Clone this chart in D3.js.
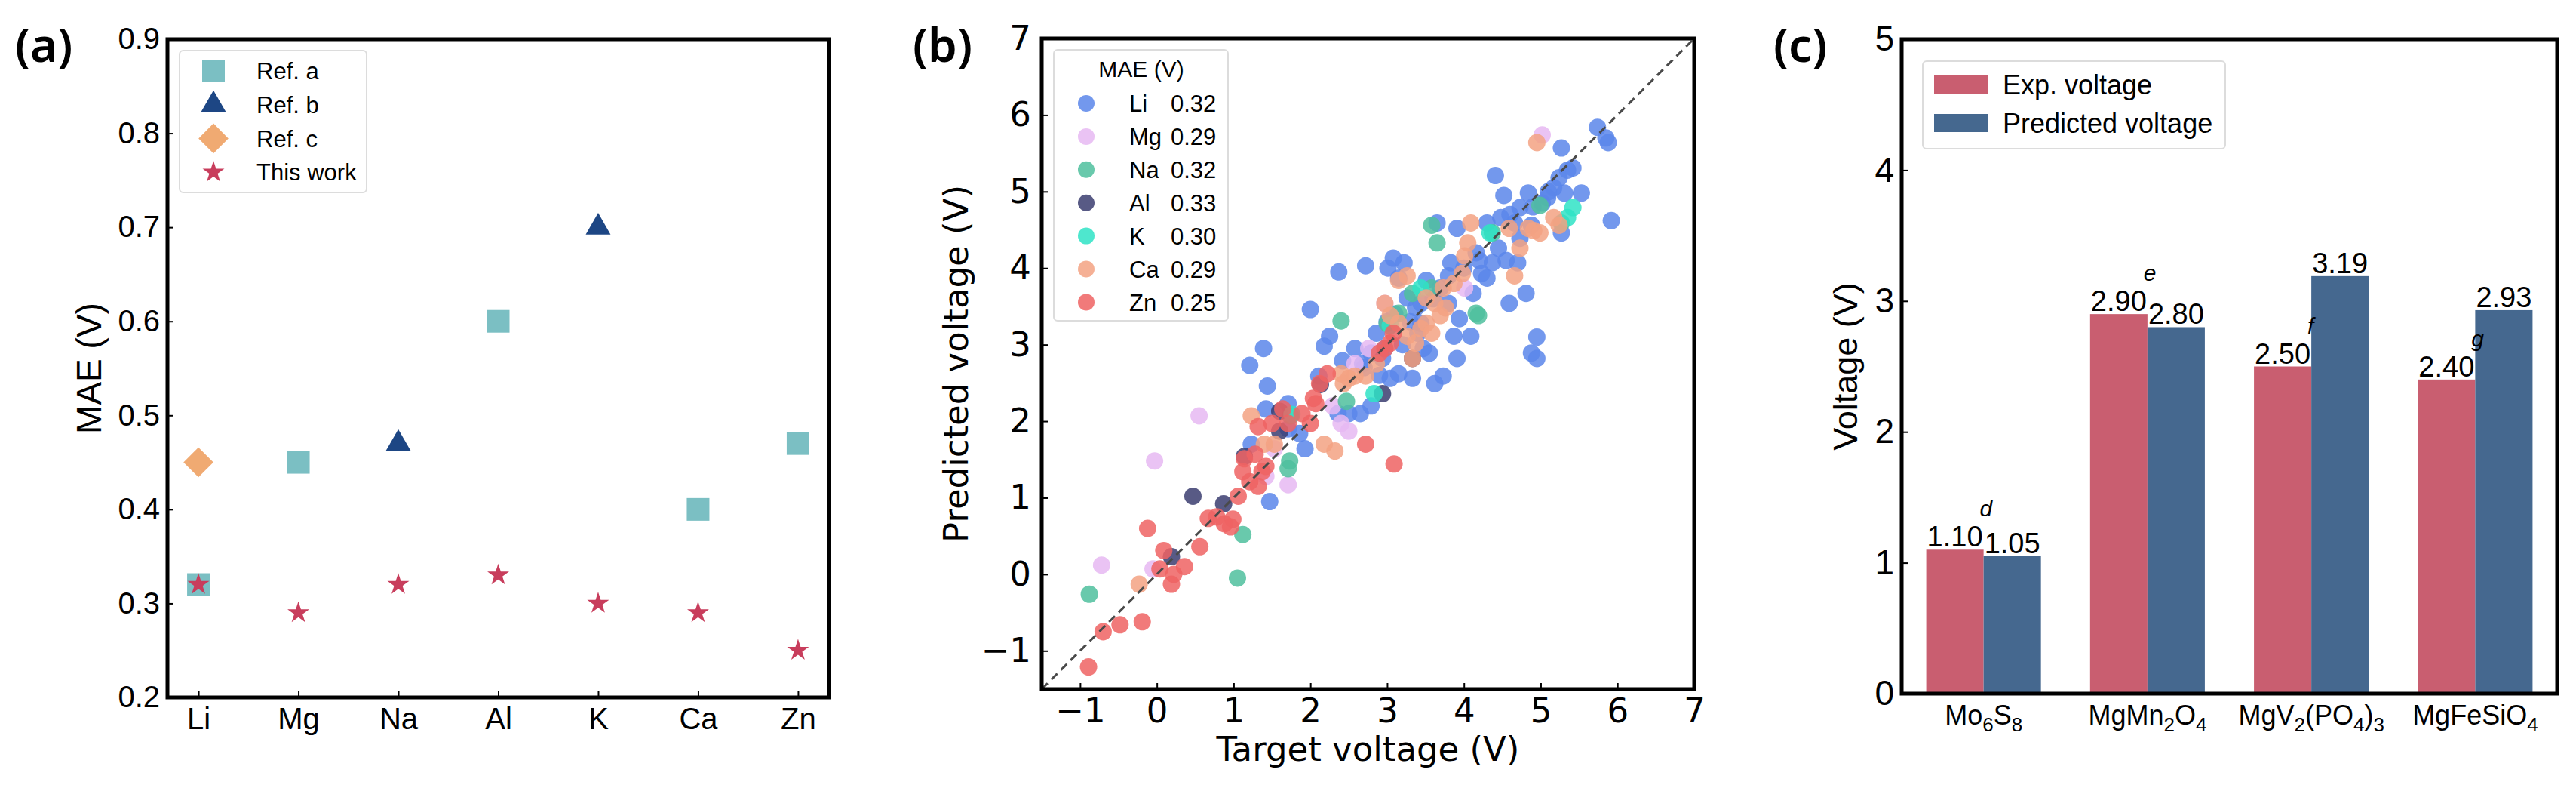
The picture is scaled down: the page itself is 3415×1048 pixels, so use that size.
<!DOCTYPE html>
<html>
<head>
<meta charset="utf-8">
<script src="https://cdn.jsdelivr.net/npm/d3@7"></script>
<style>
  body { margin: 0; background: #fff; }
  svg { display: block; }
</style>
</head>
<body>
<svg id="fig" width="3415" height="1048"></svg>
<script>
// ---------- panel (a) data
const ions = ["Li", "Mg", "Na", "Al", "K", "Ca", "Zn"];
const refAIons = ["Li", "Mg", "Al", "Ca", "Zn"];
const refAVals = [0.32, 0.45, 0.60, 0.40, 0.47];
const refBIons = ["Na", "K"];
const refBVals = [0.47, 0.70];
const refCIons = ["Li"];
const refCVals = [0.45];
const thisWorkVals = [0.32, 0.29, 0.32, 0.33, 0.30, 0.29, 0.25];
const maeTicks = [0.2, 0.3, 0.4, 0.5, 0.6, 0.7, 0.8, 0.9];

// ---------- panel (b) data: [target, predicted]
const liPts = [[1.21,2.73],[1.39,2.95],[1.44,2.46],[1.42,2.16],[1.47,0.95],[1.23,1.70],[1.71,2.23],[2.0,3.46],[2.18,2.98],[2.25,3.11],[2.37,3.95],[2.11,2.59],[2.42,2.79],[2.58,2.95],[2.72,4.03],[2.65,2.10],[2.79,2.20],[2.50,2.10],[2.68,2.75],[2.79,2.89],[2.94,2.82],[3.01,4.0],[3.08,4.13],[3.15,3.87],[3.22,4.07],[3.04,2.56],[3.15,2.62],[3.33,2.56],[3.40,3.15],[3.44,3.54],[3.51,3.84],[3.65,4.59],[3.62,2.49],[3.73,2.59],[3.80,3.54],[3.87,3.11],[3.91,4.52],[3.83,4.07],[3.94,3.34],[4.09,3.11],[4.16,4.20],[4.23,3.93],[4.30,3.87],[4.37,4.07],[4.45,4.26],[4.41,5.21],[4.52,4.95],[4.55,4.10],[4.59,3.54],[4.70,4.07],[4.73,4.79],[4.81,3.67],[4.84,4.98],[4.88,2.89],[4.95,2.82],[4.95,3.10],[5.02,4.85],[5.09,4.92],[5.17,5.05],[5.24,5.18],[5.27,5.57],[5.31,4.98],[5.35,5.28],[5.42,5.31],[5.53,4.98],[5.74,5.84],[5.85,5.70],[5.88,5.64],[5.92,4.62],[5.27,4.46],[4.66,4.59],[4.48,4.66],[3.37,3.48],[3.44,3.28],[3.55,2.89],[2.86,3.15],[2.97,2.95],[3.26,3.61],[4.12,3.67],[3.69,3.74],[3.47,2.95],[1.71,1.90],[1.93,1.64],[1.86,1.84],[2.36,2.10],[3.91,2.82],[4.73,4.39],[4.30,4.59],[4.88,4.56],[3.0,3.3],[3.1,3.4],[3.3,3.3],[3.6,3.6],[3.8,3.9],[4.0,4.0],[4.2,4.1],[4.6,4.7],[4.9,4.8],[5.1,5.0],[2.7,2.7],[2.9,2.6],[3.2,3.0]];
const mgPts = [[-0.72,0.12],[-0.03,1.48],[0.55,2.07],[1.71,1.17],[1.42,1.28],[1.53,1.64],[2.40,1.97],[2.50,1.87],[2.29,2.20],[2.76,2.95],[2.97,3.54],[4.01,3.74],[5.02,5.74],[-0.05,0.07],[2.58,2.75]];
const naPts = [[-0.88,-0.26],[1.05,-0.05],[1.12,0.52],[1.71,1.38],[1.73,1.48],[1.74,2.07],[2.40,3.31],[2.47,2.26],[3.58,4.56],[3.65,4.33],[4.16,3.41],[4.19,3.38],[3.0,3.28],[3.15,3.41],[4.37,4.46],[4.99,4.82],[5.27,4.59],[3.58,3.74],[3.33,3.67]];
const alPts = [[0.47,1.02],[0.87,0.92],[0.19,0.23],[1.60,2.13],[1.60,1.87],[2.13,2.48],[2.94,2.36],[3.33,2.82],[1.14,1.54]];
const kPts = [[1.76,2.09],[2.83,2.36],[3.04,3.25],[4.34,4.46],[5.42,4.79],[5.35,4.66],[3.44,3.74]];
const caPts = [[-0.23,-0.13],[1.23,2.07],[1.40,1.70],[1.53,1.70],[2.18,1.70],[2.32,1.61],[2.40,2.62],[2.50,2.56],[2.43,2.49],[2.58,2.59],[2.72,2.59],[2.86,2.75],[2.97,3.54],[3.04,3.38],[3.15,3.28],[3.26,3.11],[3.33,2.82],[3.37,3.02],[3.44,3.21],[3.51,3.28],[3.58,3.15],[3.69,3.38],[3.76,3.48],[3.87,3.80],[3.98,3.93],[4.05,4.33],[4.01,4.16],[3.73,3.74],[4.73,4.26],[4.84,4.52],[4.91,4.49],[4.99,4.46],[5.17,4.66],[5.24,4.56],[4.95,5.64],[4.66,3.90],[3.15,3.84],[3.26,3.90],[3.51,3.61],[3.62,3.54],[4.09,4.59],[4.59,4.52]];
const znPts = [[-0.89,-1.21],[-0.70,-0.75],[-0.48,-0.66],[-0.19,-0.62],[-0.12,0.60],[0.09,0.31],[0.04,0.07],[0.19,-0.13],[0.36,0.10],[0.56,0.36],[0.22,0.0],[0.67,0.73],[0.78,0.75],[0.88,0.66],[0.99,0.72],[0.96,0.62],[1.06,1.02],[1.14,1.51],[1.12,1.34],[1.21,1.21],[1.32,1.15],[1.37,1.34],[1.42,1.41],[1.28,1.57],[1.32,1.93],[1.50,1.97],[1.64,2.16],[1.71,1.97],[1.89,2.10],[2.0,1.97],[2.07,2.23],[2.04,2.30],[2.12,2.49],[2.22,2.62],[2.72,1.70],[3.09,1.44],[2.97,2.95],[3.04,3.02],[2.90,2.89],[3.08,3.15]];
const seriesNames = ["Li", "Mg", "Na", "Al", "K", "Ca", "Zn"];
const seriesMae = ["0.32", "0.29", "0.32", "0.33", "0.30", "0.29", "0.25"];
const seriesPts = [liPts, mgPts, naPts, alPts, kPts, caPts, znPts];
const seriesColors = ["#5a86ea", "#e6b9f2", "#4fbf9e", "#3b3d70", "#2fe3c6", "#f3a283", "#ef6363"];
const voltTicks = [-1, 0, 1, 2, 3, 4, 5, 6, 7];

// ---------- panel (c) data
const cathodes = ["Mo6S8", "MgMn2O4", "MgV2(PO4)3", "MgFeSiO4"];
const expVolt = [1.10, 2.90, 2.50, 2.40];
const predVolt = [1.05, 2.80, 3.19, 2.93];
const expRefs = ["d", "e", "f", "g"];
const cTicks = [0, 1, 2, 3, 4, 5];

const svg = d3.select("#fig");
const arial = "'Liberation Sans', Arial, sans-serif";
const dejavu = "'DejaVu Sans', sans-serif";

function styleAxis(g, size, family) {
  g.select(".domain").remove();
  g.selectAll(".tick line").attr("stroke", "#000").attr("stroke-width", 2);
  g.selectAll(".tick text").attr("fill", "#000").style("font-size", size + "px").style("font-family", family);
}

function frame(box) {
  svg.append("rect")
    .attr("x", box.l).attr("y", box.t)
    .attr("width", box.r - box.l).attr("height", box.b - box.t)
    .attr("fill", "none").attr("stroke", "#000").attr("stroke-width", 5);
}

function panelLabel(txt, x) {
  svg.append("text").attr("x", x).attr("y", 82).text(txt)
    .style("font-family", "'Noto Sans', 'Open Sans', sans-serif")
    .style("font-weight", 600).style("font-size", "62px");
}

// ================= (a)
const A = { l: 222, r: 1099, t: 52, b: 924 };
const xa = d3.scalePoint().domain(ions).range([A.l, A.r]).padding(0.31);
const ya = d3.scaleLinear().domain([0.2, 0.9]).range([A.b, A.t]);

svg.append("g").attr("transform", `translate(0,${A.b})`)
  .call(d3.axisBottom(xa).tickSize(-8).tickPadding(14))
  .call(g => styleAxis(g, 40, arial));
svg.append("g").attr("transform", `translate(${A.l},0)`)
  .call(d3.axisLeft(ya).tickValues(maeTicks).tickFormat(d3.format(".1f")).tickSize(-8).tickPadding(10))
  .call(g => styleAxis(g, 40, arial));

const markA = [
  { name: "Ref. a", sym: d3.symbol(d3.symbolSquare, 900), rot: 0, color: "#7bbfc3" },
  { name: "Ref. b", sym: d3.symbol(d3.symbolTriangle, 470), rot: 0, color: "#1d4684" },
  { name: "Ref. c", sym: d3.symbol(d3.symbolSquare, 784), rot: 45, color: "#f0aa72" },
  { name: "This work", sym: d3.symbol(d3.symbolStar, 260), rot: 0, color: "#c83d5c" }
];
const aSets = [
  refAIons.map((k, i) => [k, refAVals[i]]),
  refBIons.map((k, i) => [k, refBVals[i]]),
  refCIons.map((k, i) => [k, refCVals[i]]),
  ions.map((k, i) => [k, thisWorkVals[i]])
];
aSets.forEach((set, si) => {
  svg.append("g").selectAll("path").data(set).join("path")
    .attr("d", markA[si].sym())
    .attr("transform", d => `translate(${xa(d[0])},${ya(d[1])}) rotate(${markA[si].rot})`)
    .attr("fill", markA[si].color);
});

// legend (a)
const la = svg.append("g");
la.append("rect").attr("x", 238).attr("y", 67).attr("width", 248).attr("height", 188).attr("rx", 5)
  .attr("fill", "#fff").attr("stroke", "#dcdcdc").attr("stroke-width", 2);
markA.forEach((m, i) => {
  const y = 94 + i * 44.7;
  la.append("path").attr("d", m.sym()).attr("fill", m.color)
    .attr("transform", `translate(283,${y}) rotate(${m.rot})`);
  la.append("text").attr("x", 340).attr("y", y).attr("dy", "0.36em").text(m.name)
    .style("font-family", arial).style("font-size", "31px");
});

svg.append("text").attr("transform", `translate(134,${(A.t + A.b) / 2}) rotate(-90)`)
  .attr("text-anchor", "middle").text("MAE (V)")
  .style("font-family", arial).style("font-size", "46px");
frame(A);
panelLabel("(a)", 20);

// ================= (b)
const B = { l: 1381, r: 2246, t: 51, b: 913 };
const xb = d3.scaleLinear().domain([-1.5, 7]).range([B.l, B.r]);
const yb = d3.scaleLinear().domain([-1.5, 7]).range([B.b, B.t]);
const minusFmt = d => (d < 0 ? "\u2212" + Math.abs(d) : String(d));

svg.append("g").attr("transform", `translate(0,${B.b})`)
  .call(d3.axisBottom(xb).tickValues(voltTicks).tickFormat(minusFmt).tickSize(-8).tickPadding(12))
  .call(g => styleAxis(g, 45, dejavu));
svg.append("g").attr("transform", `translate(${B.l},0)`)
  .call(d3.axisLeft(yb).tickValues(voltTicks).tickFormat(minusFmt).tickSize(-8).tickPadding(14))
  .call(g => styleAxis(g, 45, dejavu));

seriesPts.forEach((pts, si) => {
  svg.append("g").selectAll("circle").data(pts).join("circle")
    .attr("cx", d => xb(d[0])).attr("cy", d => yb(d[1])).attr("r", 11.5)
    .attr("fill", seriesColors[si]).attr("fill-opacity", 0.85);
});

svg.append("line")
  .attr("x1", xb(-1.5)).attr("y1", yb(-1.5)).attr("x2", xb(7)).attr("y2", yb(7))
  .attr("stroke", "#4a4a4a").attr("stroke-width", 3).attr("stroke-dasharray", "11,7");

// legend (b)
const lb = svg.append("g");
lb.append("rect").attr("x", 1397).attr("y", 66).attr("width", 231).attr("height", 359).attr("rx", 5)
  .attr("fill", "#fff").attr("fill-opacity", 0.85).attr("stroke", "#dcdcdc").attr("stroke-width", 2);
lb.append("text").attr("x", 1513).attr("y", 102).attr("text-anchor", "middle").text("MAE (V)")
  .style("font-family", arial).style("font-size", "30px");
seriesNames.forEach((n, i) => {
  const y = 137 + i * 43.9;
  lb.append("circle").attr("cx", 1440).attr("cy", y).attr("r", 11)
    .attr("fill", seriesColors[i]).attr("fill-opacity", 0.85);
  lb.append("text").attr("x", 1497).attr("y", y).attr("dy", "0.36em").text(n)
    .style("font-family", arial).style("font-size", "31px");
  lb.append("text").attr("x", 1552).attr("y", y).attr("dy", "0.36em").text(seriesMae[i])
    .style("font-family", arial).style("font-size", "31px");
});

svg.append("text").attr("x", (B.l + B.r) / 2).attr("y", 1008).attr("text-anchor", "middle")
  .text("Target voltage (V)").style("font-family", dejavu).style("font-size", "45px");
svg.append("text").attr("transform", `translate(1283,${(B.t + B.b) / 2}) rotate(-90)`)
  .attr("text-anchor", "middle").text("Predicted voltage (V)")
  .style("font-family", dejavu).style("font-size", "45px");
frame(B);
panelLabel("(b)", 1210);

// ================= (c)
const C = { l: 2521, r: 3390, t: 52, b: 919 };
const xc = d3.scaleBand().domain(cathodes).range([C.l, C.r]).padding(0);
const yc = d3.scaleLinear().domain([0, 5]).range([C.b, C.t]);
const barW = xc.bandwidth() * 0.35;
const barColors = ["#c95e70", "#45688f"];

const gcx = svg.append("g").attr("transform", `translate(0,${C.b})`)
  .call(d3.axisBottom(xc).tickSize(0).tickPadding(15))
  .call(g => styleAxis(g, 36, arial));
// chemical formula labels: digits drawn as subscripts
gcx.selectAll(".tick text").each(function (d) {
  const t = d3.select(this).attr("dy", null).attr("y", 41).text(null);
  let shift = 0;
  d.match(/\d+|[^\d]+/g).forEach(part => {
    const isSub = /\d/.test(part);
    const target = isSub ? 9 : 0;
    const ts = t.append("tspan").style("font-size", isSub ? "26px" : null).text(part);
    if (target !== shift) ts.attr("dy", target - shift);
    shift = target;
  });
});
svg.append("g").attr("transform", `translate(${C.l},0)`)
  .call(d3.axisLeft(yc).tickValues(cTicks).tickFormat(d3.format("d")).tickSize(-8).tickPadding(10))
  .call(g => styleAxis(g, 46, arial));

const barSets = [expVolt, predVolt];
barSets.forEach((vals, si) => {
  const gb = svg.append("g");
  gb.selectAll("rect").data(cathodes).join("rect")
    .attr("x", d => xc(d) + xc.bandwidth() / 2 - barW + si * barW)
    .attr("y", (d, i) => yc(vals[i]))
    .attr("width", barW).attr("height", (d, i) => yc(0) - yc(vals[i]))
    .attr("fill", barColors[si]);
  gb.selectAll("text").data(cathodes).join("text")
    .attr("x", d => xc(d) + xc.bandwidth() / 2 - barW / 2 + si * barW)
    .attr("y", (d, i) => yc(vals[i]) - 4)
    .attr("text-anchor", "middle").text((d, i) => vals[i].toFixed(2))
    .style("font-family", arial).style("font-size", "38px");
});
svg.append("g").selectAll("text").data(cathodes).join("text")
  .attr("x", d => xc(d) + xc.bandwidth() / 2 - barW / 2 + 33)
  .attr("y", (d, i) => yc(expVolt[i]) - 44)
  .text((d, i) => expRefs[i])
  .style("font-family", arial).style("font-style", "italic").style("font-size", "30px");

// legend (c)
const lc = svg.append("g");
lc.append("rect").attr("x", 2549).attr("y", 81).attr("width", 401).attr("height", 116).attr("rx", 5)
  .attr("fill", "#fff").attr("stroke", "#dcdcdc").attr("stroke-width", 2);
["Exp. voltage", "Predicted voltage"].forEach((n, i) => {
  const y = 112 + i * 51;
  lc.append("rect").attr("x", 2564).attr("y", y - 12).attr("width", 72).attr("height", 24).attr("fill", barColors[i]);
  lc.append("text").attr("x", 2655).attr("y", y).attr("dy", "0.36em").text(n)
    .style("font-family", arial).style("font-size", "36px");
});

svg.append("text").attr("transform", `translate(2462,${(C.t + C.b) / 2}) rotate(-90)`)
  .attr("text-anchor", "middle").text("Voltage (V)")
  .style("font-family", arial).style("font-size", "45px");
frame(C);
panelLabel("(c)", 2351);
</script>
</body>
</html>
